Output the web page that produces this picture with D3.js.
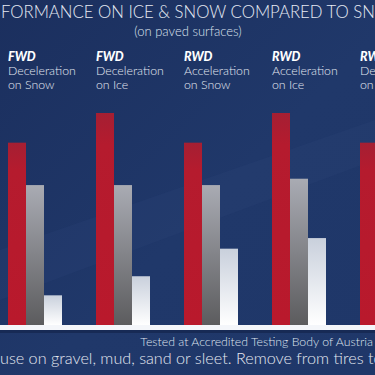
<!DOCTYPE html>
<html>
<head>
<meta charset="utf-8">
<script src="https://cdn.jsdelivr.net/npm/d3@7"></script>
<style>
  body { margin: 0; background: #1e3465; }
  svg { display: block; font-family: Lato, "Open Sans", sans-serif; }
</style>
</head>
<body>
<div id="chart"></div>
<script>
const width = 375;
const height = 375;

// data (relative height, tallest bar = 100)
const drives = ["FWD", "FWD", "RWD", "RWD", "RWD"];
const tests = [["Deceleration", "on Snow"], ["Deceleration", "on Ice"], ["Acceleration", "on Snow"], ["Acceleration", "on Ice"], ["Deceleration", "on Snow"]];
const series = ["red", "grey", "white"];
const redValues = [86, 100, 86, 100, 86];
const greyValues = [66, 66, 66, 69, 66];
const whiteValues = [14, 23, 36, 41, 20];

const groups = drives.map((d, i) => i);
const rows = groups.map(i => ({ i, values: [redValues[i], greyValues[i], whiteValues[i]] }));

const svg = d3.select("#chart")
    .append("svg")
    .attr("width", width)
    .attr("height", height);

const defs = svg.append("defs");

const bg = defs.append("linearGradient").attr("id", "bg")
    .attr("x1", 0).attr("y1", 0).attr("x2", 1).attr("y2", 1);
bg.append("stop").attr("offset", "0%").attr("stop-color", "#1b2f5e");
bg.append("stop").attr("offset", "55%").attr("stop-color", "#20386a");
bg.append("stop").attr("offset", "100%").attr("stop-color", "#1f3769");

const greyGrad = defs.append("linearGradient").attr("id", "greyGrad")
    .attr("x1", 0).attr("y1", 0).attr("x2", 0).attr("y2", 1);
greyGrad.append("stop").attr("offset", "0%").attr("stop-color", "#a9abb3");
greyGrad.append("stop").attr("offset", "100%").attr("stop-color", "#5c5c5e");

const whiteGrad = defs.append("linearGradient").attr("id", "whiteGrad")
    .attr("x1", 0).attr("y1", 0).attr("x2", 0).attr("y2", 1);
whiteGrad.append("stop").attr("offset", "0%").attr("stop-color", "#c9d0dc");
whiteGrad.append("stop").attr("offset", "100%").attr("stop-color", "#ffffff");

const redGrad = defs.append("linearGradient").attr("id", "redGrad")
    .attr("x1", 0).attr("y1", 0).attr("x2", 0).attr("y2", 1);
redGrad.append("stop").attr("offset", "0%").attr("stop-color", "#a51f33");
redGrad.append("stop").attr("offset", "15%").attr("stop-color", "#b51b2e");
redGrad.append("stop").attr("offset", "100%").attr("stop-color", "#b9192c");

const fills = { red: "url(#redGrad)", grey: "url(#greyGrad)", white: "url(#whiteGrad)" };

svg.append("rect")
    .attr("width", width)
    .attr("height", height)
    .attr("fill", "url(#bg)");

// faint diagonal streak
svg.append("path")
    .attr("d", "M0,250 L375,120 L375,160 L0,300 Z")
    .attr("fill", "#2a4478")
    .attr("opacity", 0.25);

const x = d3.scaleBand()
    .domain(groups)
    .range([8, 448])
    .paddingInner(0);

const xSub = d3.scaleBand()
    .domain(series)
    .range([0, 54]);

const y = d3.scaleLinear()
    .domain([0, 100])
    .range([325, 113]);

// title (condensed a little to match the original face)
svg.append("text")
    .attr("transform", "scale(0.93,1)")
    .attr("x", 1)
    .attr("y", 18)
    .attr("fill", "#e6eaf3")
    .attr("font-size", 18)
    .attr("font-weight", 300)
    .text("FORMANCE ON ICE & SNOW COMPARED TO SNOW");

svg.append("text")
    .attr("x", 188)
    .attr("y", 36)
    .attr("text-anchor", "middle")
    .attr("fill", "#dde3ee")
    .attr("font-size", 13)
    .attr("font-weight", 300)
    .text("(on paved surfaces)");

// group labels
const label = svg.selectAll(".label")
    .data(groups)
    .enter()
    .append("g")
    .attr("class", "label")
    .attr("fill", "#e3e8f1");

label.append("text")
    .attr("x", d => x(d))
    .attr("y", 61)
    .attr("font-size", 12.5)
    .attr("font-weight", 900)
    .attr("font-style", "italic")
    .attr("fill", "#ffffff")
    .text(d => drives[d]);
label.append("text")
    .attr("x", d => x(d))
    .attr("y", 75)
    .attr("font-size", 12.3)
    .attr("font-weight", 300)
    .text(d => tests[d][0]);
label.append("text")
    .attr("x", d => x(d))
    .attr("y", 88.5)
    .attr("font-size", 12.3)
    .attr("font-weight", 300)
    .text(d => tests[d][1]);

// bars
svg.selectAll(".group")
    .data(rows)
    .enter()
    .append("g")
    .attr("class", "group")
    .attr("transform", d => `translate(${x(d.i)},0)`)
    .selectAll("rect")
    .data(d => d.values.map((v, k) => ({ key: series[k], v })))
    .enter()
    .append("rect")
    .attr("x", d => xSub(d.key))
    .attr("y", d => y(d.v))
    .attr("width", xSub.bandwidth())
    .attr("height", d => y(0) - y(d.v))
    .attr("fill", d => fills[d.key]);

// baseline band
svg.append("rect")
    .attr("x", 0)
    .attr("y", y(0))
    .attr("width", width)
    .attr("height", 5)
    .attr("fill", "#f4f6fa");

svg.append("rect")
    .attr("x", 0)
    .attr("y", y(0) + 5)
    .attr("width", width)
    .attr("height", 3)
    .attr("fill", "#172a55");

// footnotes
svg.append("text")
    .attr("x", 373)
    .attr("y", 345.5)
    .attr("text-anchor", "end")
    .attr("fill", "#dfe4ee")
    .attr("font-size", 12.3)
    .attr("font-weight", 300)
    .text("Tested at Accredited Testing Body of Austria");

svg.append("text")
    .attr("x", 0)
    .attr("y", 364)
    .attr("fill", "#e3e7f0")
    .attr("font-size", 16.2)
    .attr("font-weight", 300)
    .text("use on gravel, mud, sand or sleet. Remove from tires to");
</script>
</body>
</html>
